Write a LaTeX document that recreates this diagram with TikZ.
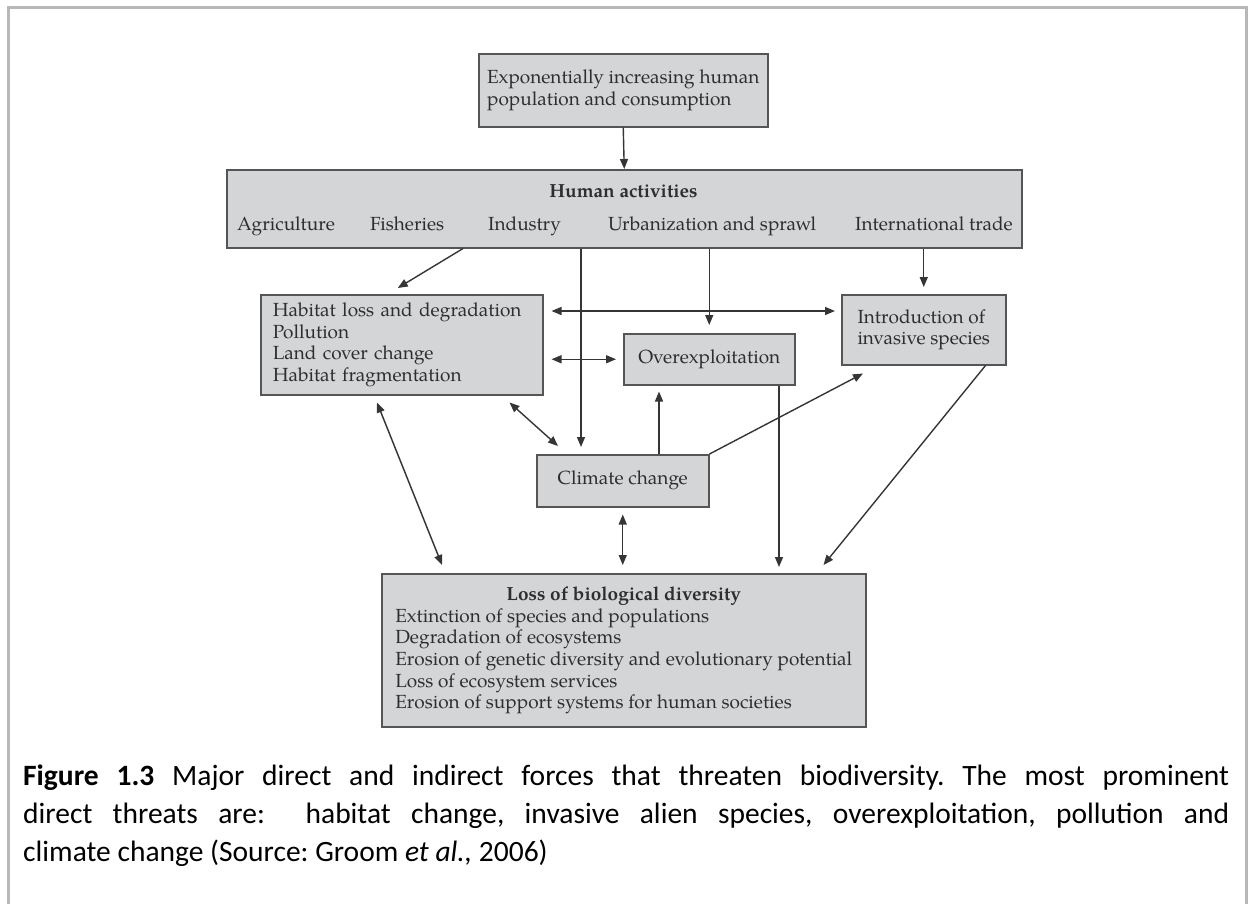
\documentclass[tikz,border=0pt]{standalone}
\usepackage{fontspec}
\setmainfont{TeX Gyre Pagella}
\newfontfamily\capfont{Carlito}
\usetikzlibrary{arrows.meta,calc}
\definecolor{boxfill}{HTML}{D4D5D7}
\definecolor{boxline}{HTML}{555555}
\definecolor{txt}{HTML}{2E2E2E}
\definecolor{arrcol}{HTML}{353535}
\definecolor{framecol}{HTML}{B8B8B8}
\newcommand\bxfont{\fontsize{19}{21.7}\selectfont}
\newcommand\cpfont{\capfont\fontsize{29.5}{38}\selectfont\frenchspacing}
\begin{document}
\begin{tikzpicture}[x=1pt,y=-1pt,
  box/.style={draw=boxline, fill=boxfill, line width=1.5pt, text=txt, font=\bxfont, inner sep=0pt, anchor=north west},
  lab/.style={text=txt, font=\bxfont, inner sep=0pt},
  captxt/.style={text=black, font=\cpfont, inner sep=0pt, anchor=base west},
  arr/.style={draw=arrcol, line width=1.4pt, -{Triangle[length=10pt,width=8pt]}},
  darr/.style={draw=arrcol, line width=1.4pt, {Triangle[length=10pt,width=8pt]}-{Triangle[length=10pt,width=8pt]}}
]
\useasboundingbox (0,0) rectangle (1248,903);
\draw[draw=framecol, line width=3pt] (8,920) -- (8,7) -- (1246,7) -- (1246,920);

% boxes
\node[box, minimum width=289pt, minimum height=73pt, align=left] (top) at (478,53)
  {Exponentially increasing human\\population and consumption};
\node[box, minimum width=795pt, minimum height=78pt] (human) at (226,169) {};
\node[lab, anchor=base, font=\bxfont\bfseries] (hatitle) at (623.5,197) {Human activities};
\node[lab, anchor=base west] (agri) at (237,230) {Agriculture};
\node[lab, anchor=base west] (fish) at (370,230) {Fisheries};
\node[lab, anchor=base west] (indu) at (488,230) {Industry};
\node[lab, anchor=base west] (urban) at (608,230) {Urbanization and sprawl};
\node[lab, anchor=base west] (trade) at (855,230) {International trade};

\node[box, text width=258pt, inner xsep=12pt, minimum height=100pt, align=left] (habitat) at (260,294)
  {Habitat loss and degradation\\Pollution\\Land cover change\\Habitat fragmentation};
\node[box, minimum width=171pt, minimum height=51pt] (overexp) at (623,333) {Overexploitation};
\node[box, minimum width=164pt, minimum height=70pt, align=left] (intro) at (841,294)
  {Introduction of\\invasive species};
\node[box, minimum width=172pt, minimum height=52pt] (climate) at (536,454) {Climate change};
\node[box, minimum width=484pt, minimum height=153pt] (loss) at (381,573)
  {\begin{tabular}{@{}l@{}}\multicolumn{1}{@{}c@{}}{\bfseries Loss of biological diversity}\\
   Extinction of species and populations\\
   Degradation of ecosystems\\
   Erosion of genetic diversity and evolutionary potential\\
   Loss of ecosystem services\\
   Erosion of support systems for human societies\end{tabular}};

% connectors
\draw[arr] (top.south) -- (human.north);
\draw[arr] ([xshift=237pt]human.south west) -- ([shift={(-4pt,6pt)}]habitat.north);
\coordinate (indx) at ([xshift=45pt]climate.north west);
\draw[arr, shorten >=7pt] (human.south -| indx) -- (indx);
\draw[arr, shorten >=8pt] (human.south -| overexp.north) -- (overexp.north);
\draw[arr, shorten >=7pt] (human.south -| intro.north) -- (intro.north);
\coordinate (hx) at ([yshift=-17pt]habitat.north east);
\draw[darr, shorten <=8pt, shorten >=6pt] (hx) -- (hx -| intro.west);
\draw[darr, shorten <=8pt, shorten >=7pt] (overexp.west -| habitat.east) -- (overexp.west);
\draw[darr] ([shift={(-34pt,-7pt)}]habitat.south east) -- ([shift={(22pt,8pt)}]climate.north west);
\coordinate (cx) at ([xshift=36pt]overexp.south west);
\draw[arr, shorten >=6pt] (climate.north -| cx) -- (cx);
\draw[arr] (climate.north east) -- ([shift={(22pt,-8pt)}]intro.south west);
\coordinate (ox) at ([xshift=156pt]overexp.south west);
\draw[arr, shorten >=6pt] (ox) -- (ox |- loss.north);
\draw[arr] ([xshift=-21pt]intro.south east) -- ([shift={(-43pt,8pt)}]loss.north east);
\draw[darr, shorten <=7pt, shorten >=8pt] (climate.south) -- (climate.south |- loss.north);
\draw[darr] ([shift={(117pt,-7pt)}]habitat.south west) -- ([shift={(61pt,8pt)}]loss.north west);

% caption
\node[captxt] (cap1) at (23,785) {\makebox[1206pt][s]{\bfseries Figure 1.3\mdseries{} Major direct and indirect forces that threaten biodiversity. The most prominent}};
\node[captxt] (cap2) at (23,823) {\makebox[1206pt][s]{direct threats are: \ habitat change, invasive alien species, overexploitation, pollution and}};
\node[captxt] (cap3) at (23,861) {climate change (Source: Groom \textit{et al.,} 2006)};
\end{tikzpicture}
\end{document}
